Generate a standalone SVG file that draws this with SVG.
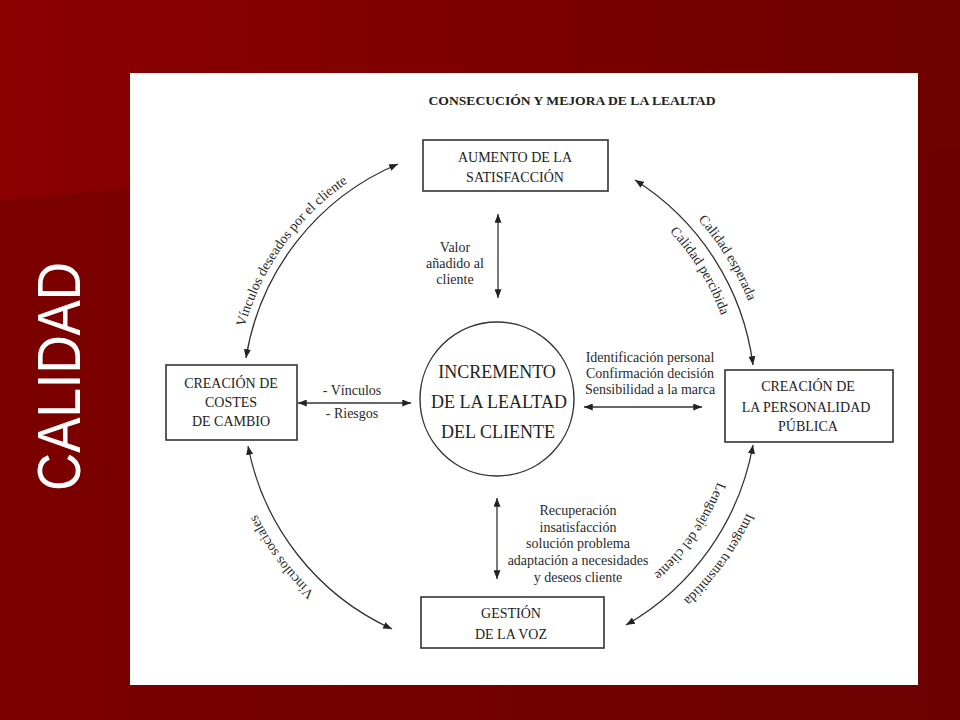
<svg xmlns="http://www.w3.org/2000/svg" width="960" height="720" viewBox="0 0 960 720">
<defs>
<linearGradient id="bgBase" x1="0" y1="0" x2="1" y2="0">
<stop offset="0" stop-color="#7c0000"/>
<stop offset="1" stop-color="#6c0000"/>
</linearGradient>
<linearGradient id="bgTop" x1="0" y1="0" x2="1" y2="0">
<stop offset="0" stop-color="#8c0000"/>
<stop offset="1" stop-color="#6e0000"/>
</linearGradient>
<marker id="ah" viewBox="0 0 10 8" refX="10" refY="4" markerWidth="9" markerHeight="7" markerUnits="userSpaceOnUse" orient="auto-start-reverse">
<path d="M0,0 L10,4 L0,8 z" fill="#222"/>
</marker>
<path id="tp1" d="M 235.8,418.6 A 262 262 0 0 1 431.4,144.3"/>
<path id="tp2" d="M 624.1,161.9 A 270 270 0 0 1 767,393.3"/>
<path id="tp3" d="M 609.7,185.9 A 238 238 0 0 1 734.9,389.7"/>
<path id="tp4" d="M 732.2,416.9 A 236 236 0 0 1 598.2,611.2"/>
<path id="tp5" d="M 770.5,426.7 A 275 275 0 0 1 608.9,649.2"/>
<path id="tp6" d="M 434.2,657.5 A 267 267 0 0 1 230.5,381.2"/>
</defs>
<style>
.box{fill:#fff;stroke:#333;stroke-width:1.6}
.bt{font-family:"Liberation Serif","Times New Roman",serif;font-size:14px;fill:#222;text-anchor:middle}
.ct{font-family:"Liberation Serif","Times New Roman",serif;font-size:18px;fill:#222;text-anchor:middle}
.lb{font-family:"Liberation Serif","Times New Roman",serif;font-size:14px;fill:#2a2a2a;text-anchor:middle}
.al{font-family:"Liberation Serif","Times New Roman",serif;font-size:14px;fill:#2a2a2a}
.cn{fill:none;stroke:#333;stroke-width:1.3;marker-start:url(#ah);marker-end:url(#ah)}
</style>

<!-- background -->
<rect x="0" y="0" width="960" height="720" fill="url(#bgBase)"/>
<polygon points="0,0 960,0 960,150 130,188 0,200" fill="url(#bgTop)"/>
<text transform="translate(80,376.5) rotate(-90)" font-family="'Liberation Sans',Arial,sans-serif" font-size="61" fill="#fff" text-anchor="middle" textLength="229" lengthAdjust="spacingAndGlyphs">CALIDAD</text>

<!-- white panel -->
<rect x="130" y="73" width="788" height="612" fill="#fff"/>
<text x="572" y="105" font-family="'Liberation Serif','Times New Roman',serif" font-size="13" font-weight="bold" fill="#222" text-anchor="middle" textLength="287" lengthAdjust="spacingAndGlyphs">CONSECUCIÓN Y MEJORA DE LA LEALTAD</text>

<!-- connectors -->
<g id="connectors">
<path class="cn" d="M 498,214 L 498,298"/>
<path class="cn" d="M 497,498 L 497,579"/>
<path class="cn" d="M 298,403 L 411,403"/>
<path class="cn" d="M 584,407 L 702,407"/>
<path class="cn" d="M 246,358 A 254 254 0 0 1 398,164"/>
<path class="cn" d="M 635,180 A 258 258 0 0 1 753,365"/>
<path class="cn" d="M 753,445 A 260 260 0 0 1 626,625"/>
<path class="cn" d="M 392,629 A 254 254 0 0 1 248,446"/>
<text class="lb" x="455" y="252">Valor</text>
<text class="lb" x="455" y="268">añadido al</text>
<text class="lb" x="455" y="284">cliente</text>
<text class="lb" x="578" y="515">Recuperación</text>
<text class="lb" x="578" y="532">insatisfacción</text>
<text class="lb" x="578" y="548">solución problema</text>
<text class="lb" x="578" y="565">adaptación a necesidades</text>
<text class="lb" x="578" y="582">y deseos cliente</text>
<text class="lb" x="352" y="395">- Vínculos</text>
<text class="lb" x="352" y="418">- Riesgos</text>
<text class="lb" x="650" y="362">Identificación personal</text>
<text class="lb" x="650" y="378">Confirmación decisión</text>
<text class="lb" x="650" y="394">Sensibilidad a la marca</text>
<text class="al" text-anchor="middle"><textPath href="#tp1" startOffset="50%">Vínculos deseados por el cliente</textPath></text>
<text class="al" text-anchor="middle"><textPath href="#tp2" startOffset="50%">Calidad esperada</textPath></text>
<text class="al" text-anchor="middle"><textPath href="#tp3" startOffset="50%">Calidad percibida</textPath></text>
<text class="al" text-anchor="middle"><textPath href="#tp4" startOffset="50%">Lenguaje del cliente</textPath></text>
<text class="al" text-anchor="middle"><textPath href="#tp5" startOffset="50%">Imagen transmitida</textPath></text>
<text class="al" text-anchor="middle"><textPath href="#tp6" startOffset="50%">Vínculos sociales</textPath></text>
</g>

<!-- nodes -->
<g id="aumento">
<rect class="box" x="423" y="140" width="185" height="51"/>
<text class="bt" x="515" y="162">AUMENTO DE LA</text>
<text class="bt" x="515" y="182">SATISFACCIÓN</text>
</g>
<g id="costes">
<rect class="box" x="166" y="365" width="131" height="75"/>
<text class="bt" x="231" y="388">CREACIÓN DE</text>
<text class="bt" x="231" y="407">COSTES</text>
<text class="bt" x="231" y="426">DE CAMBIO</text>
</g>
<g id="personalidad">
<rect class="box" x="725" y="370" width="168" height="72"/>
<text class="bt" x="808" y="391">CREACIÓN DE</text>
<text class="bt" x="806" y="412">LA PERSONALIDAD</text>
<text class="bt" x="808" y="431">PÚBLICA</text>
</g>
<g id="voz">
<rect class="box" x="421" y="597" width="183" height="51"/>
<text class="bt" x="511" y="618">GESTIÓN</text>
<text class="bt" x="511" y="639">DE LA VOZ</text>
</g>
<g id="lealtad">
<circle cx="497" cy="399" r="77" fill="#fff" stroke="#333" stroke-width="1.4"/>
<text class="ct" x="497" y="378">INCREMENTO</text>
<text class="ct" x="499" y="408">DE LA LEALTAD</text>
<text class="ct" x="498" y="438">DEL CLIENTE</text>
</g>
</svg>
